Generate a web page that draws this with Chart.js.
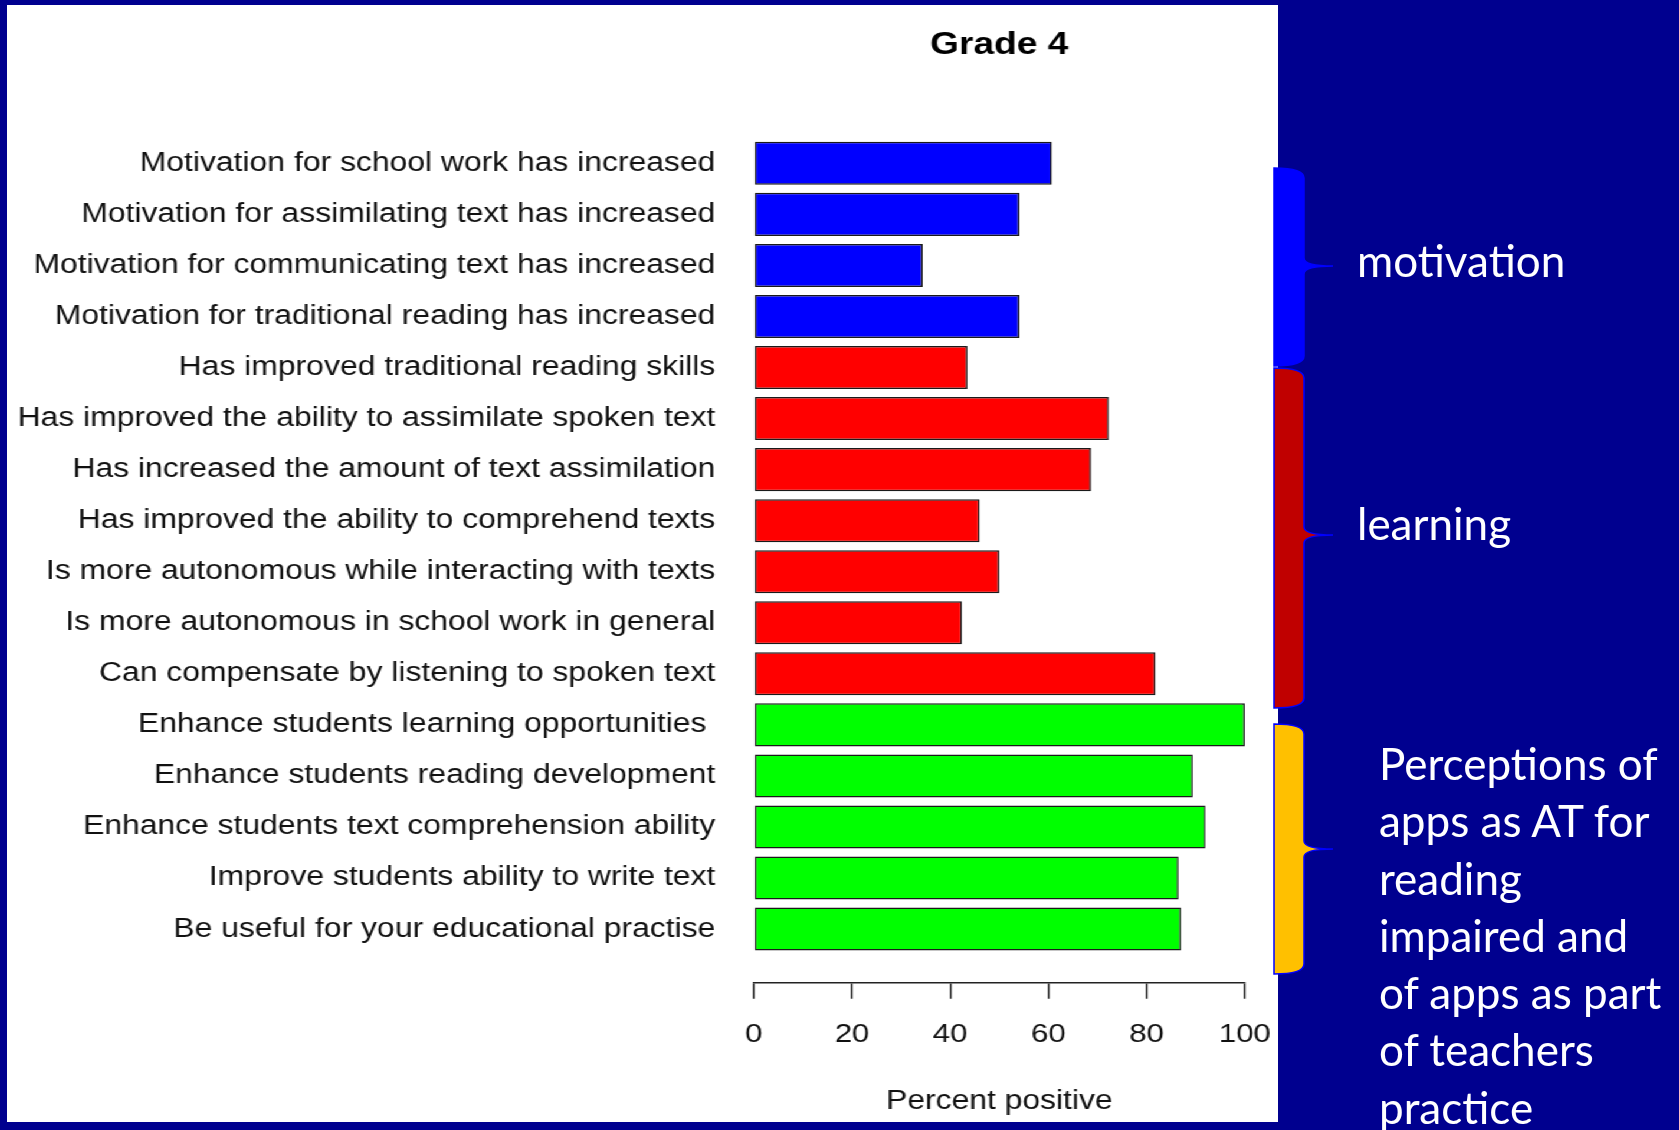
<!DOCTYPE html>
<html>
<head>
<meta charset="utf-8">
<title>Grade 4</title>
<script src="https://cdn.jsdelivr.net/npm/chart.js@4.4.0/dist/chart.umd.min.js"></script>
<style>
  html, body { margin: 0; padding: 0; }
  body {
    width: 1679px;
    height: 1130px;
    background: #00008f;
    position: relative;
    overflow: hidden;
  }
  /* the R plot was pasted into the slide and stretched sideways */
  #plot {
    position: absolute;
    left: 7px;
    top: 5px;
    width: 1077px;
    height: 1117px;
    background: #fff;
    transform: scaleX(1.18);
    transform-origin: 0 0;
  }
  #braces { position: absolute; left: 0; top: 0; }
  .note {
    position: absolute;
    color: #fff;
    font-family: Lato, "Noto Sans", sans-serif;
    font-size: 44px;
    line-height: 57.3px;
    white-space: nowrap;
  }
</style>
</head>
<body>

<div id="plot"><canvas id="chart" width="1077" height="1117"></canvas></div>
<canvas id="braces" width="1679" height="1130"></canvas>

<div class="note" style="left:1357px; top:232px;">motivation</div>
<div class="note" style="left:1357px; top:495px;">learning</div>
<div class="note" style="left:1379px; top:735px;">Perceptions of<br>apps as AT for<br>reading<br>impaired and<br>of apps as part<br>of teachers<br>practice</div>

<script>

/* ===== data ===== */

const categories = [
  "Motivation for school work has increased",
  "Motivation for assimilating text has increased",
  "Motivation for communicating text has increased",
  "Motivation for traditional reading has increased",
  "Has improved traditional reading skills",
  "Has improved the ability to assimilate spoken text",
  "Has increased the amount of text assimilation",
  "Has improved the ability to comprehend texts",
  "Is more autonomous while interacting with texts",
  "Is more autonomous in school work in general",
  "Can compensate by listening to spoken text",
  "Enhance students learning opportunities ",
  "Enhance students reading development",
  "Enhance students text comprehension ability",
  "Improve students ability to write text",
  "Be useful for your educational practise"
]

const percentPositive = [
  60.7, 54.1, 34.4, 54.1,
  43.5, 72.3, 68.7, 46.0, 50.0, 42.4, 81.8,
  100, 89.4, 92.0, 86.5, 87.0
]

const groups = [
  "motivation", "motivation", "motivation", "motivation",
  "learning", "learning", "learning", "learning", "learning", "learning", "learning",
  "apps", "apps", "apps", "apps", "apps"
]

const xTicks = [0, 20, 40, 60, 80, 100]


/* ===== styles ===== */

const groupColors = {
  motivation: "#0000ff",
  learning: "#ff0000",
  apps: "#00ff00"
}

const FONT = "'Liberation Sans', Arial, sans-serif"

Chart.defaults.font.family = FONT
Chart.defaults.color = "#111"


/* ===== chart ===== */

new Chart(document.getElementById("chart"), {

  type: "bar",

  data: {
    datasets: [
      {
        label: "Percent positive",
        data: percentPositive.map((v, i) => ({ x: v, y: i })),
        backgroundColor: groups.map(g => groupColors[g]),
        borderColor: "#1a1a1a",
        borderWidth: 1.5,
        borderSkipped: false,
        categoryPercentage: 1,
        barPercentage: 0.843
      }
    ]
  },

  options: {
    indexAxis: "y",
    responsive: false,
    animation: false,
    layout: {
      padding: { top: 0, right: 28, bottom: 0, left: 0 }
    },
    plugins: {
      legend: { display: false },
      tooltip: { enabled: false },
      title: {
        display: true,
        text: "Grade 4",
        fullSize: false,
        color: "#000",
        font: { size: 31.5, weight: "bold" },
        padding: { top: 21.5, bottom: 73.5 }
      }
    },
    scales: {
      y: {
        type: "linear",
        reverse: true,
        offset: false,
        min: -0.5,
        max: 16.05,
        afterBuildTicks: scale => {
          scale.ticks = categories.map((c, i) => ({ value: i }))
        },
        afterFit: scale => {
          scale.width = 632.9
          scale.paddingTop = 0
          scale.paddingBottom = 0
        },
        ticks: {
          callback: v => categories[v],
          font: { size: 27 },
          color: "#111",
          padding: 32.6,
          autoSkip: false
        },
        grid: { display: false, drawTicks: false, offset: false },
        border: { display: false }
      },
      x: {
        type: "linear",
        min: 0,
        max: 100,
        afterBuildTicks: scale => {
          scale.ticks = xTicks.map(v => ({ value: v }))
        },
        afterFit: scale => {
          scale.height = 139.3
          scale.paddingLeft = 0
          scale.paddingRight = 0
        },
        ticks: {
          font: { size: 26.5 },
          color: "#111",
          padding: 20
        },
        grid: {
          drawOnChartArea: false,
          drawTicks: true,
          tickLength: 16,
          color: "#222",
          lineWidth: 1.5
        },
        border: { display: true, color: "#222", width: 1.5 },
        title: {
          display: true,
          text: "Percent positive",
          color: "#111",
          font: { size: 27 },
          padding: { top: 0, bottom: 4 }
        }
      }
    }
  }

})


/* ===== braces on the slide ===== */

function drawBrace(ctx, top, bottom, tip, fill) {
  const x0 = 1274, x1 = 1304, x2 = 1333, r = 10, t = 8
  ctx.beginPath()
  ctx.moveTo(x0, top)
  ctx.quadraticCurveTo(x1, top, x1, top + r)
  ctx.lineTo(x1, tip - t)
  ctx.quadraticCurveTo(x1, tip, x2, tip)
  ctx.quadraticCurveTo(x1, tip, x1, tip + t)
  ctx.lineTo(x1, bottom - r)
  ctx.quadraticCurveTo(x1, bottom, x0, bottom)
  ctx.closePath()
  ctx.fillStyle = fill
  ctx.fill()
  ctx.strokeStyle = "#0000ff"
  ctx.lineWidth = 1.5
  ctx.stroke()
}

const bctx = document.getElementById("braces").getContext("2d")
drawBrace(bctx, 168, 366, 266, "#0000ff")
drawBrace(bctx, 368, 708, 535, "#c00000")
drawBrace(bctx, 724, 974, 849, "#ffc000")

</script>
</body>
</html>
